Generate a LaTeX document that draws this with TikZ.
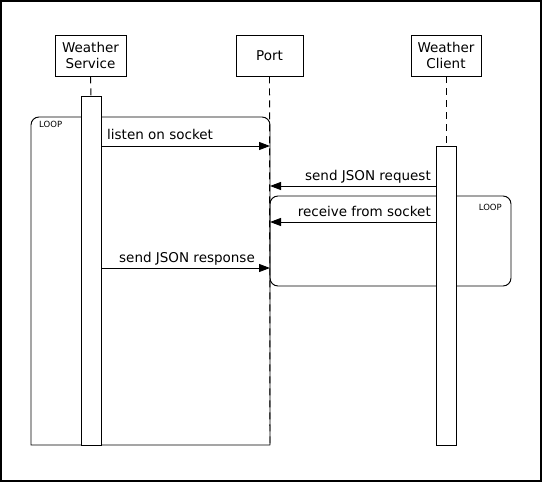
\documentclass[tikz,border=0pt]{standalone}
\usepackage{fontspec}
\setmainfont{DejaVu Sans}
\usetikzlibrary{arrows.meta}
\begin{document}
\begin{tikzpicture}[x=1pt,y=-1pt,
  actor/.style={draw,line width=0.95pt,fill=white,align=center,inner sep=0pt,font=\fontsize{13.5}{16}\selectfont},
  lifeline/.style={line width=0.95pt,dash pattern=on 7pt off 5pt},
  actbar/.style={draw,line width=0.95pt,fill=white},
  loopbox/.style={draw,line width=0.95pt,rounded corners=8pt},
  msg/.style={line width=0.95pt,-{Triangle[length=11pt,width=8pt]}},
  msglabel/.style={font=\fontsize{13.5}{16}\selectfont,inner sep=0pt},
  looplabel/.style={font=\fontsize{8.5}{10}\selectfont,inner sep=0pt}]
\useasboundingbox (0,0) rectangle (542,482);
\draw[line width=2.2pt] (1,1) rectangle (541,481);
% actors
\node[actor,minimum width=71pt,minimum height=41pt] (ws) at (90.5,55.5) {Weather\\Service};
\node[actor,minimum width=67pt,minimum height=41pt] (port) at (269.5,55.5) {Port};
\node[actor,minimum width=70pt,minimum height=41pt] (wc) at (446,55.5) {Weather\\Client};
% lifeline coordinates
\coordinate (wsTop) at (91,96);
\coordinate (wcTop) at (446,146);
\coordinate (portEnd) at (270,445);
\draw[lifeline] (ws.south) -- (wsTop);
\draw[lifeline] (wc.south) -- (wcTop);
\draw[lifeline] (port.south) -- (portEnd);
% loop 1
\draw[line width=0.95pt] (270,445) -- (31,445) [rounded corners=8pt] -- (31,117) -- (270,117) -- (270,445);
\node[looplabel,anchor=north west] (loop1) at (39,121) {LOOP};
% loop 2
\draw[loopbox] (270,196) rectangle (511,286);
\node[looplabel,anchor=north east] (loop2) at (502,204) {LOOP};
% activation bars
\node[actbar,minimum width=20pt,minimum height=349pt,inner sep=0pt,anchor=north] (wsAct) at (91,96) {};
\node[actbar,minimum width=20pt,minimum height=299pt,inner sep=0pt,anchor=north] (wcAct) at (446,146) {};
% message endpoints
\coordinate (m1s) at (101,146); \coordinate (m1e) at (270,146);
\coordinate (m2s) at (436,186); \coordinate (m2e) at (270,186);
\coordinate (m3s) at (436,222); \coordinate (m3e) at (270,222);
\coordinate (m4s) at (101,268); \coordinate (m4e) at (270,268);
\draw[msg] (m1s) -- (m1e);
\draw[msg] (m2s) -- (m2e);
\draw[msg] (m3s) -- (m3e);
\draw[msg] (m4s) -- (m4e);
\node[msglabel,anchor=base west] (l1) at (107,139) {listen on socket};
\node[msglabel,anchor=base east] (l2) at (431,180) {send JSON request};
\node[msglabel,anchor=base east] (l3) at (431,216) {receive from socket};
\node[msglabel,anchor=base] (l4) at (187,262) {send JSON response};
\end{tikzpicture}
\end{document}
